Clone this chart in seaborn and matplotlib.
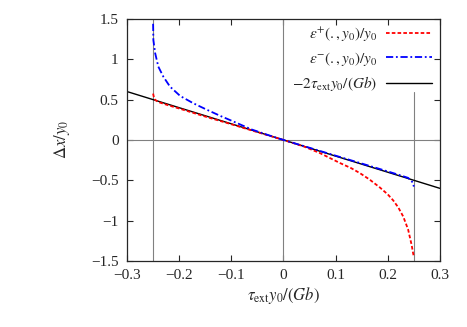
import numpy as np
import pandas as pd
import matplotlib
matplotlib.use("Agg")
import matplotlib.pyplot as plt
from matplotlib.legend import Legend
import seaborn as sns

# Valores
x_plus = [-0.25, -0.2485, -0.246, -0.24, -0.22, -0.2, -0.15, -0.1, -0.05, 0.0,
          0.04, 0.07, 0.108, 0.13, 0.147, 0.165, 0.185, 0.2, 0.2105, 0.22, 0.2297,
          0.239, 0.2457, 0.2485, 0.25]
y_plus = [0.575, 0.53, 0.497, 0.47, 0.428, 0.39, 0.29, 0.195, 0.097, 0.0,
          -0.083, -0.163, -0.285, -0.35, -0.413, -0.49, -0.59, -0.675, -0.75, -0.835, -0.95,
          -1.11, -1.30, -1.40, -1.45]

x_minus = [-0.25, -0.2495, -0.246, -0.24, -0.2304, -0.2176, -0.198, -0.1729, -0.147,
           -0.12, -0.0993, -0.061, -0.03, 0.0, 0.05, 0.1, 0.15, 0.2, 0.22, 0.239,
           0.245, 0.248, 0.25]
y_minus = [1.44, 1.24, 1.075, 0.909, 0.785, 0.661, 0.545, 0.455, 0.375,
           0.295, 0.238, 0.13, 0.062, 0.0, -0.097, -0.195, -0.292, -0.39, -0.43, -0.47,
           -0.505, -0.53, -0.578]

x_lin = [-0.3, 0.3]
y_lin = [0.6, -0.6]

etiquetas = [r"$\varepsilon^{+}(.,y_0)/y_0$", r"$\varepsilon^{-}(.,y_0)/y_0$", r"$-2\tau_{\rm ext}y_0/(Gb)$"]

sns.set_style("ticks")
plt.rcParams["font.family"] = ["Liberation Serif", "DejaVu Serif"]
plt.rcParams["mathtext.fontset"] = "stix"
plt.rcParams["xtick.direction"] = "in"
plt.rcParams["ytick.direction"] = "in"

fig = plt.figure(figsize=(4.67, 3.27), dpi=100)
ax = fig.add_axes([0.272, 0.202, 0.67, 0.74])

# lineas de referencia
gris = "#808080"
ax.axhline(0, color=gris, lw=0.8, zorder=1)
ax.axvline(0, color=gris, lw=0.8, zorder=1)
ax.axvline(-0.25, color=gris, lw=0.8, zorder=1)
ax.plot([0.25, 0.25], [-1.5, 0.6], color=gris, lw=0.8, zorder=1)

sns.lineplot(x=x_plus, y=y_plus, ax=ax, color="red", lw=1.3, linestyle=(0, (2, 1.2)),
             label=etiquetas[0], sort=False, zorder=3)
sns.lineplot(x=x_minus, y=y_minus, ax=ax, color="blue", lw=1.3, linestyle=(0, (4, 1.5, 1, 1.5)),
             label=etiquetas[1], sort=False, zorder=3)
sns.lineplot(x=x_lin, y=y_lin, ax=ax, color="black", lw=1.0, label=etiquetas[2], zorder=2)

ax.set_xlim(-0.3, 0.3)
ax.set_ylim(-1.5, 1.5)
ax.set_xticks([-0.3, -0.2, -0.1, 0, 0.1, 0.2, 0.3])
ax.set_xticklabels(["\u22120.3", "\u22120.2", "\u22120.1", "0", "0.1", "0.2", "0.3"])
ax.set_yticks([-1.5, -1, -0.5, 0, 0.5, 1, 1.5])
ax.set_yticklabels(["\u22121.5", "\u22121", "\u22120.5", "0", "0.5", "1", "1.5"])
ax.tick_params(top=True, right=True, labelsize=11, length=4, width=0.8, pad=6)
for s in ax.spines.values():
    s.set_linewidth(0.9)

ax.set_xlabel(r"$\tau_{\rm ext}y_0/(Gb)$", fontsize=12, labelpad=2)
ax.set_ylabel(r"$\Delta x/y_0$", fontsize=12, labelpad=14)

handles, labels = ax.get_legend_handles_labels()
ax.get_legend().remove()
# una leyenda por fila para alinear texto a la derecha (estilo gnuplot)
for i, (h, l) in enumerate(zip(handles, labels)):
    leg = Legend(ax, [h], [l], loc="upper right", bbox_to_anchor=(1.0, 1.005 - i * 0.101),
                 frameon=False, markerfirst=False, fontsize=11, handlelength=3.0,
                 borderaxespad=0.1, handletextpad=0.6)
    ax.add_artist(leg)

fig.savefig("out.png", dpi=100)
